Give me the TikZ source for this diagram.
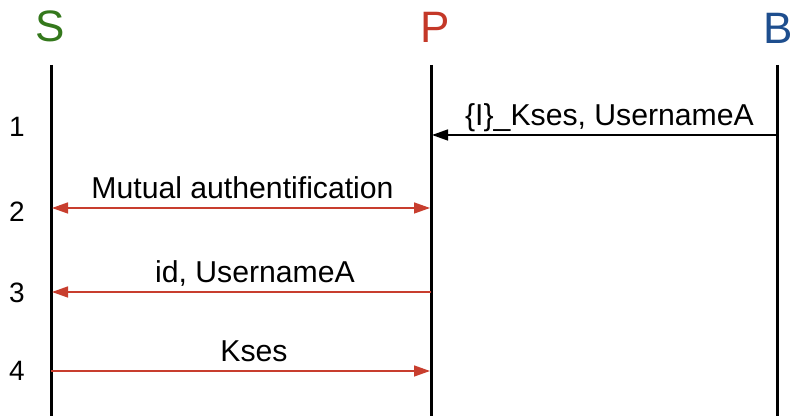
\documentclass[tikz,border=0pt]{standalone}
\usepackage{fontspec}
\setmainfont{Liberation Sans}
\usetikzlibrary{arrows.meta,positioning}
\definecolor{sgreen}{RGB}{52,120,28}
\definecolor{pred}{RGB}{196,56,40}
\definecolor{bblue}{RGB}{30,78,142}
\definecolor{msgred}{RGB}{200,62,46}

\begin{document}
\begin{tikzpicture}[
  x=0.5pt, y=0.5pt,
  font=\fontsize{15.1}{18}\selectfont,
  role/.style={font=\fontsize{22}{26}\selectfont, anchor=base, inner sep=0pt},
  lifeline/.style={line width=1.5pt},
  stepnum/.style={font=\fontsize{14}{16}\selectfont, inner sep=0pt},
  msg/.style={line width=0.7pt, draw=msgred, -{Triangle[length=8pt,width=5.5pt]}},
  lbl/.style={anchor=base, yshift=4.5pt, inner sep=0pt}
]
\useasboundingbox (0,0) rectangle (790,416);

% roles
\node[role, text=sgreen] (S) at (50,374) {S};
\node[role, text=pred] (P) at (435,373) {P};
\node[role, text=bblue] (B) at (778,372) {B};

% lifelines
\coordinate (S-top) at (51,351);
\coordinate (S-bot) at (51,-5);
\coordinate (P-top) at (431,351);
\coordinate (P-bot) at (431,-5);
\coordinate (B-top) at (777,351);
\coordinate (B-bot) at (777,-5);
\draw[lifeline] (S-top) -- (S-bot);
\draw[lifeline] (P-top) -- (P-bot);
\draw[lifeline] (B-top) -- (B-bot);

% message levels
\coordinate (b1) at (776,281);
\coordinate (p1) at (432,281);
\coordinate (s2) at (52,208);
\coordinate (p2) at (430,208);
\coordinate (p3) at (431,124);
\coordinate (s3) at (52,124);
\coordinate (s4) at (51,45);
\coordinate (p4) at (430,45);

% step numbers
\node[stepnum] (n1) at (17,289) {1};
\node[stepnum] (n2) at (17,204) {2};
\node[stepnum] (n3) at (17,123) {3};
\node[stepnum] (n4) at (17,45) {4};

% messages
\draw[msg, draw=black] (b1) -- node[lbl, xshift=2.75pt] (m1) {\{I\}\_Kses, UsernameA} (p1);
\draw[msg, {Triangle[length=8pt,width=5.5pt]}-{Triangle[length=8pt,width=5.5pt]}, msgred] (s2) -- node[lbl, xshift=0.75pt, text=black] (m2) {Mutual authentification} (p2);
\draw[msg] (p3) -- node[lbl, xshift=6.75pt] (m3) {id, UsernameA} (s3);
\draw[msg] (s4) -- node[lbl, xshift=6.75pt] (m4) {Kses} (p4);
\end{tikzpicture}
\end{document}
